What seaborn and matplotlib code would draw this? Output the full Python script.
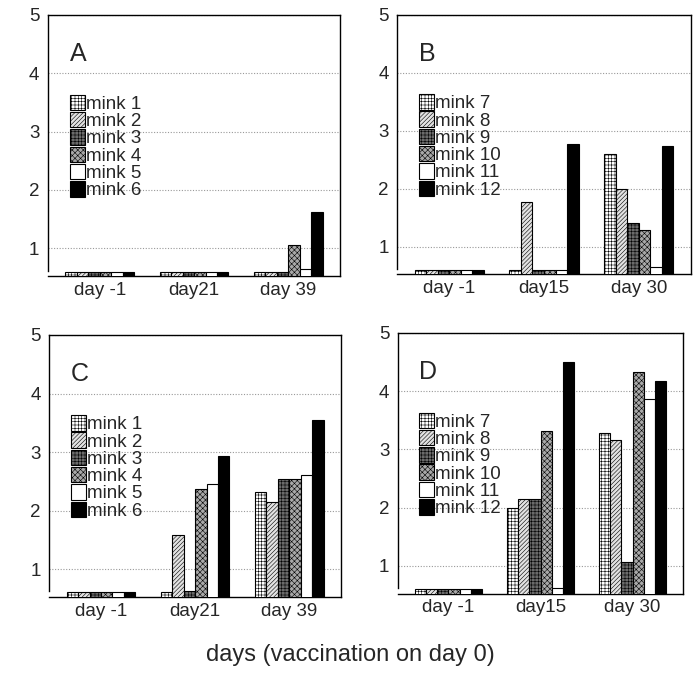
import numpy as np
import pandas as pd
import seaborn as sns
import matplotlib as mpl
from matplotlib import pyplot as plt
from matplotlib.patches import Patch

sns.set_style("white")
plt.rcParams['font.family'] = ['Liberation Sans', 'DejaVu Sans']
mpl.rcParams['hatch.linewidth'] = 0.4

# data (rows = mink, columns = day)
days_ac = ["day -1", "day21", "day 39"]
days_bd = ["day -1", "day15", "day 30"]
minks_ac = ["mink 1", "mink 2", "mink 3", "mink 4", "mink 5", "mink 6"]
minks_bd = ["mink 7", "mink 8", "mink 9", "mink 10", "mink 11", "mink 12"]

vals_a = [[0.6, 0.6, 0.6],
          [0.6, 0.6, 0.6],
          [0.6, 0.6, 0.6],
          [0.6, 0.6, 1.05],
          [0.6, 0.6, 0.64],
          [0.6, 0.6, 1.62]]
vals_b = [[0.6, 0.6, 2.59],
          [0.6, 1.76, 2.0],
          [0.6, 0.6, 1.41],
          [0.6, 0.6, 1.28],
          [0.6, 0.6, 0.65],
          [0.6, 2.77, 2.73]]
vals_c = [[0.6, 0.6, 2.32],
          [0.6, 1.58, 2.15],
          [0.6, 0.62, 2.54],
          [0.6, 2.36, 2.54],
          [0.6, 2.45, 2.6],
          [0.6, 2.93, 3.54]]
vals_d = [[0.6, 2.0, 3.29],
          [0.6, 2.15, 3.16],
          [0.6, 2.15, 1.07],
          [0.6, 3.32, 4.33],
          [0.6, 0.62, 3.87],
          [0.6, 4.5, 4.17]]

# bar styles, one per mink slot
faces = ["white", "#e2e2e2", "#6a6a6a", "#a8a8a8", "white", "black"]
hatches = ["+++++", "////////", "+++++", "xxxxxx", "", ""]


def long_df(vals, minks, days):
    rows = []
    for m, row in zip(minks, vals):
        for d, v in zip(days, row):
            rows.append({"mink": m, "day": d, "value": v})
    return pd.DataFrame(rows)


def panel(ax, vals, minks, days, letter):
    df = long_df(vals, minks, days)
    sns.barplot(data=df, x="day", y="value", hue="mink", order=days, hue_order=minks,
                palette=dict(zip(minks, faces)), width=0.73, errorbar=None,
                edgecolor="black", linewidth=0.8, legend=False, ax=ax, zorder=3)
    for cont, h in zip(ax.containers, hatches):
        for p in cont.patches:
            p.set_hatch(h)
            p.set_edgecolor("black")
    ax.set_xlim(-0.55, 2.55)
    ax.set_ylim(0.52, 5)
    ax.set_yticks([1, 2, 3, 4, 5])
    ax.yaxis.grid(True, linestyle=(0, (1, 1.5)), color="#999999", linewidth=0.8, zorder=0)
    ax.set_axisbelow(True)
    ax.set_xlabel("")
    ax.set_ylabel("")
    ax.tick_params(axis="both", labelsize=13.5, length=0, pad=4)
    ax.tick_params(axis="y", pad=6)
    for s in ax.spines.values():
        s.set_color("black")
        s.set_linewidth(1.0)
    ax.spines['left'].set_bounds(0.62, 5)
    ax.text(0.075, 0.85, letter, transform=ax.transAxes, fontsize=18, va="center", ha="left")
    handles = [Patch(facecolor=f, edgecolor="black", hatch=h, linewidth=0.8)
               for f, h in zip(faces, hatches)]
    ax.legend(handles, minks, loc="upper left", bbox_to_anchor=(0.075, 0.695),
              frameon=False, fontsize=13.5, handlelength=0.8, handleheight=0.9,
              handletextpad=0.05, labelspacing=-0.05, borderpad=0, borderaxespad=0)


fig = plt.figure(figsize=(6.93, 6.74), dpi=100)
ax_a = fig.add_axes([0.069, 0.590, 0.422, 0.388])
ax_b = fig.add_axes([0.573, 0.593, 0.424, 0.385])
ax_c = fig.add_axes([0.071, 0.114, 0.421, 0.389])
ax_d = fig.add_axes([0.574, 0.119, 0.412, 0.387])

panel(ax_a, vals_a, minks_ac, days_ac, "A")
panel(ax_b, vals_b, minks_bd, days_bd, "B")
panel(ax_c, vals_c, minks_ac, days_ac, "C")
panel(ax_d, vals_d, minks_bd, days_bd, "D")

fig.text(0.505, 0.028, "days (vaccination on day 0)", ha="center", va="center", fontsize=17)

fig.savefig("out.png", dpi=100)
